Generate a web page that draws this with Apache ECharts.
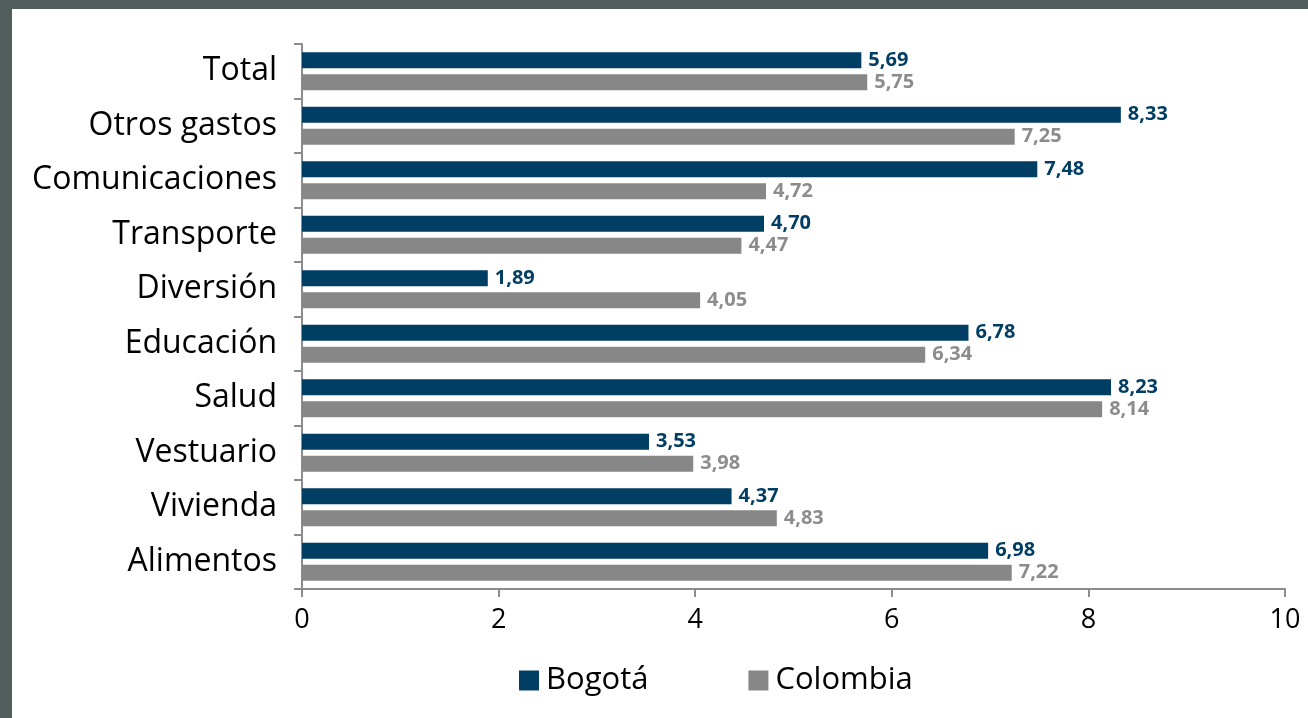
<!DOCTYPE html>
<html><head><meta charset="utf-8">
<script src="https://cdn.jsdelivr.net/npm/echarts@6/dist/echarts.min.js"></script>
<style>
html,body{margin:0;padding:0;background:#525e5c;width:1308px;height:718px;overflow:hidden}
#c{position:absolute;left:12px;top:9px;width:1296px;height:709px;background:#fff}
</style></head><body><div id="c"></div>
<script>
const categories = ['Total','Otros gastos','Comunicaciones','Transporte','Diversión','Educación','Salud','Vestuario','Vivienda','Alimentos'];
const bogota = [5.69, 8.33, 7.48, 4.70, 1.89, 6.78, 8.23, 3.53, 4.37, 6.98];
const colombia = [5.75, 7.25, 4.72, 4.47, 4.05, 6.34, 8.14, 3.98, 4.83, 7.22];
const xTicks = {min: 0, max: 10, interval: 2};
const FONT = 'Open Sans';
const chart = echarts.init(document.getElementById('c'));
const fmt = p => p.value.toFixed(2).replace('.', ',');
chart.setOption({
  animation: false,
  textStyle: {fontFamily: FONT},
  grid: {left: 290, right: 23, top: 35, bottom: 129, containLabel: false},
  legend: {
    data: ['Bogotá','Colombia'], top: 651, left: 502,
    itemWidth: 20, itemHeight: 20, itemGap: 100, icon: 'rect',
    textStyle: {fontSize: 31, color: '#000', fontFamily: FONT, padding: [0,0,0,2]}
  },
  xAxis: {
    type: 'value', min: xTicks.min, max: xTicks.max, interval: xTicks.interval,
    axisLine: {show: true, lineStyle: {color: '#8c8c8c', width: 2}},
    axisTick: {show: true, length: 8, lineStyle: {color: '#8c8c8c', width: 2}},
    splitLine: {show: false},
    axisLabel: {fontSize: 27, color: '#000', margin: 18, fontFamily: FONT}
  },
  yAxis: {
    type: 'category', data: categories, inverse: true,
    axisLine: {show: true, lineStyle: {color: '#8c8c8c', width: 2}},
    axisTick: {show: true, length: 8, lineStyle: {color: '#8c8c8c', width: 2}},
    axisLabel: {fontSize: 32, color: '#000', margin: 25, fontFamily: FONT}
  },
  series: [
    {name: 'Bogotá', type: 'bar', data: bogota, barWidth: 16, barGap: '38%',
     itemStyle: {color: '#013e63'},
     label: {show: true, position: 'right', distance: 7, formatter: fmt,
             fontSize: 20, fontWeight: 'bold', color: '#013e63', fontFamily: FONT}},
    {name: 'Colombia', type: 'bar', data: colombia, barWidth: 16,
     itemStyle: {color: '#878787'},
     label: {show: true, position: 'right', distance: 7, formatter: fmt,
             fontSize: 20, fontWeight: 'bold', color: '#8c8c8c', fontFamily: FONT}}
  ]
});
</script></body></html>
